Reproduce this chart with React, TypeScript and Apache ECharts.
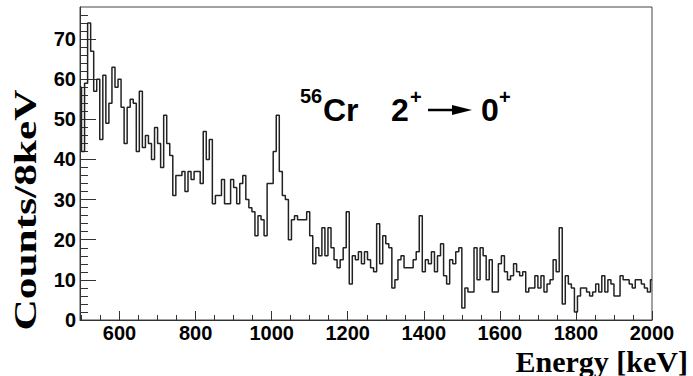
import React, { useEffect, useRef } from "react";
import * as echarts from "echarts";

// Histogram: bin k covers [binOrigin + 8k, binOrigin + 8k + 8], clipped to the axis range
const binOrigin = 492;
const binWidth = 8;
const xMin = 496;
const xMax = 2000;
const yMin = 0;
const yMax = 78;

const counts: number[] = [
  58,
  42, 59, 74, 67, 57, 60, 45, 61, 49, 54, 63, 58, 60, 53, 44, 53,
  55, 54, 42, 57, 43, 46, 44, 40, 48, 44, 38, 51, 44, 41, 31, 36,
  36, 37, 32, 37, 35, 37, 37, 34, 47, 40, 45, 29, 31, 31, 35, 29,
  29, 35, 33, 29, 34, 36, 30, 28, 27, 21, 26, 25, 21, 34, 34, 42,
  51, 37, 31, 30, 20, 25, 26, 25, 25, 25, 27, 21, 14, 18, 16, 23,
  16, 23, 18, 15, 13, 15, 18, 27, 9, 16, 15, 17, 14, 17, 15, 13,
  12, 24, 14, 21, 19, 18, 8, 10, 15, 16, 13, 13, 13, 15, 17, 26,
  12, 15, 14, 17, 12, 16, 19, 11, 9, 15, 14, 17, 18, 3, 8, 7,
  7, 18, 10, 18, 16, 10, 15, 7, 7, 14, 16, 12, 10, 11, 14, 12,
  11, 12, 7, 8, 8, 11, 8, 11, 7, 9, 10, 15, 12, 23, 4, 11,
  9, 8, 2, 6, 8, 8, 7, 6, 7, 9, 7, 11, 7, 10, 9, 6,
  6, 11, 10, 10, 9, 8, 10, 10, 9, 8, 7, 10,
];

const xMajorTicks = [600, 800, 1000, 1200, 1400, 1600, 1800, 2000];
const yMajorTicks = [0, 10, 20, 30, 40, 50, 60, 70];

const xTitle = "Energy [keV]";
const yTitle = "Counts/8keV";

export default function App() {
  const ref = useRef<HTMLDivElement>(null);

  useEffect(() => {
    if (!ref.current) return;
    const chart = echarts.init(ref.current, null, { renderer: "svg" });

    const stepPoints: number[][] = [];
    counts.forEach((c, k) => {
      const lo = Math.max(xMin, binOrigin + binWidth * k);
      const hi = Math.min(xMax, binOrigin + binWidth * (k + 1));
      stepPoints.push([lo, c], [hi, c]);
    });

    const xMinorTicks: number[] = [];
    for (let v = 500; v < xMax; v += 50) {
      if (v % 200 !== 0) xMinorTicks.push(v);
    }
    const yMinorTicks: number[] = [];
    for (let v = 2; v < yMax; v += 2) {
      if (v % 10 !== 0) yMinorTicks.push(v);
    }

    const axisColor = "#333";
    const labelFont = {
      fontFamily: "Liberation Sans, Arial, sans-serif",
      fontWeight: "bold" as const,
      fontSize: 20,
      color: "#000",
      formatter: (v: number) => String(v),
    };

    chart.setOption({
      animation: false,
      backgroundColor: "#fff",
      grid: {
        left: 80,
        right: 41,
        top: 7,
        bottom: 56,
        show: true,
        borderColor: "#444",
        borderWidth: 1,
      },
      xAxis: [
        {
          type: "value",
          min: xMin,
          max: xMax,
          position: "bottom",
          axisLine: { show: true, lineStyle: { color: axisColor, width: 1 } },
          axisTick: {
            show: true,
            inside: true,
            length: 9,
            customValues: xMajorTicks,
            lineStyle: { color: axisColor, width: 1 },
          },
          axisLabel: { ...labelFont, margin: 3, customValues: xMajorTicks },
          splitLine: { show: false },
        },
        {
          type: "value",
          min: xMin,
          max: xMax,
          position: "bottom",
          axisLine: { show: false },
          axisTick: {
            show: true,
            inside: true,
            length: 5,
            customValues: xMinorTicks,
            lineStyle: { color: axisColor, width: 1 },
          },
          axisLabel: { show: false },
          splitLine: { show: false },
        },
      ],
      yAxis: [
        {
          type: "value",
          min: yMin,
          max: yMax,
          position: "left",
          axisLine: { show: true, lineStyle: { color: axisColor, width: 1 } },
          axisTick: {
            show: true,
            inside: true,
            length: 16,
            customValues: yMajorTicks,
            lineStyle: { color: axisColor, width: 1 },
          },
          axisLabel: { ...labelFont, margin: 4, customValues: yMajorTicks },
          splitLine: { show: false },
        },
        {
          type: "value",
          min: yMin,
          max: yMax,
          position: "left",
          axisLine: { show: false },
          axisTick: {
            show: true,
            inside: true,
            length: 8,
            customValues: yMinorTicks,
            lineStyle: { color: axisColor, width: 1 },
          },
          axisLabel: { show: false },
          splitLine: { show: false },
        },
      ],
      series: [
        {
          type: "line",
          xAxisIndex: 0,
          yAxisIndex: 0,
          data: stepPoints,
          symbol: "none",
          clip: true,
          lineStyle: { color: "#222", width: 1.5 },
        },
      ],
      graphic: [
        {
          type: "text",
          x: 25,
          y: 210,
          rotation: Math.PI / 2,
          scaleX: 1.4,
          style: {
            text: yTitle,
            font: "bold 31px 'Liberation Serif', 'Times New Roman', serif",
            fill: "#000",
            textAlign: "center",
            textVerticalAlign: "middle",
          },
        },
        {
          type: "text",
          x: 688,
          y: 361,
          style: {
            text: xTitle,
            font: "bold 30px 'Liberation Serif', 'Times New Roman', serif",
            fill: "#000",
            textAlign: "right",
            textVerticalAlign: "middle",
          },
        },
        {
          type: "text",
          x: 300,
          y: 96,
          style: {
            text: "56",
            font: "bold 20px 'Liberation Sans', Arial, sans-serif",
            fill: "#000",
            textAlign: "left",
            textVerticalAlign: "middle",
          },
        },
        {
          type: "text",
          x: 323,
          y: 110,
          style: {
            text: "Cr",
            font: "bold 32px 'Liberation Sans', Arial, sans-serif",
            fill: "#000",
            textAlign: "left",
            textVerticalAlign: "middle",
          },
        },
        {
          type: "text",
          x: 391,
          y: 110,
          style: {
            text: "2",
            font: "bold 32px 'Liberation Sans', Arial, sans-serif",
            fill: "#000",
            textAlign: "left",
            textVerticalAlign: "middle",
          },
        },
        {
          type: "text",
          x: 410,
          y: 97,
          style: {
            text: "+",
            font: "bold 20px 'Liberation Sans', Arial, sans-serif",
            fill: "#000",
            textAlign: "left",
            textVerticalAlign: "middle",
          },
        },
        {
          type: "line",
          shape: { x1: 428, y1: 110, x2: 456, y2: 110 },
          style: { stroke: "#000", lineWidth: 2.5 },
        },
        {
          type: "polygon",
          shape: { points: [[452, 105], [472, 110], [452, 115]] },
          style: { fill: "#000" },
        },
        {
          type: "text",
          x: 481,
          y: 110,
          style: {
            text: "0",
            font: "bold 32px 'Liberation Sans', Arial, sans-serif",
            fill: "#000",
            textAlign: "left",
            textVerticalAlign: "middle",
          },
        },
        {
          type: "text",
          x: 499,
          y: 97,
          style: {
            text: "+",
            font: "bold 20px 'Liberation Sans', Arial, sans-serif",
            fill: "#000",
            textAlign: "left",
            textVerticalAlign: "middle",
          },
        },
      ],
    });

    return () => chart.dispose();
  }, []);

  return (
    <div
      ref={ref}
      style={{ position: "fixed", left: 0, top: 0, width: 693, height: 376 }}
    />
  );
}
